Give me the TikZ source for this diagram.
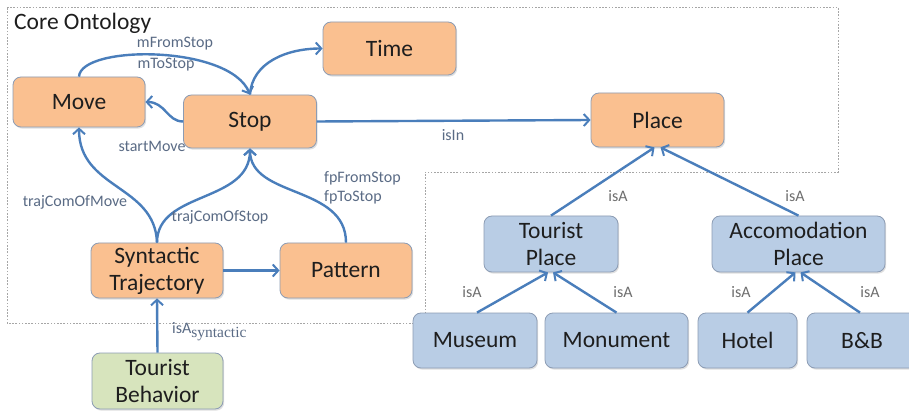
\documentclass[tikz,border=0pt]{standalone}
\usepackage{fontspec}
\setmainfont{Carlito}
\newfontfamily\subfont{Liberation Serif}
\usetikzlibrary{arrows.meta,shadows}

\definecolor{orfill}{HTML}{FAC090}
\definecolor{blfill}{HTML}{B9CDE5}
\definecolor{grfill}{HTML}{D7E4BD}
\definecolor{boxline}{HTML}{8C9CB4}
\definecolor{arrowc}{HTML}{4A7EBB}
\definecolor{lblcore}{HTML}{5A6B85}
\definecolor{lblisa}{HTML}{6E6E6E}
\definecolor{txt}{HTML}{1E1E1E}
\definecolor{frame}{HTML}{A6A6A6}

\begin{document}
\begin{tikzpicture}[x=1pt,y=-1pt,
  box/.style={draw=boxline, line width=0.8pt, rounded corners=8pt,
    inner sep=0pt, align=center, text=txt,
    font=\fontsize{23.5}{27}\selectfont,
    drop shadow={shadow xshift=1.2pt, shadow yshift=-1.6pt, opacity=0.25}},
  core/.style={box, fill=orfill},
  place/.style={box, fill=blfill},
  behav/.style={box, fill=grfill},
  rel/.style={draw=arrowc, line width=2.4pt,
    -{Straight Barb[length=5.5pt,width=12pt,line width=2pt]}},
  lbl/.style={inner sep=0pt, text=lblcore, font=\fontsize{16}{18}\selectfont},
  isalbl/.style={inner sep=0pt, text=lblisa, font=\fontsize{16}{18}\selectfont},
]
\useasboundingbox (0,0) rectangle (909,411);
\clip (0,0) rectangle (909,411);
\fill[white] (0,0) rectangle (909,411);

% boundary of the core ontology
\draw[frame, line width=0.8pt, dash pattern=on 1.6pt off 1.6pt]
  (7,7) -- (838,7) -- (838,172) -- (425,172) -- (425,323) -- (7,323) -- cycle;
\node[anchor=west, inner sep=0pt, text=txt, font=\fontsize{23.5}{26}\selectfont]
  (title) at (14,23) {Core Ontology};

% core concepts
\node[core, minimum width=132pt, minimum height=50pt] (move) at (79,102) {Move};
\node[core, minimum width=133pt, minimum height=53pt] (stop) at (250,121.5) {Stop};
\node[core, minimum width=133pt, minimum height=53pt] (time) at (389.5,48.5) {Time};
\node[core, minimum width=133pt, minimum height=54pt] (plc) at (657.5,120) {Place};
\node[core, minimum width=132pt, minimum height=55pt] (syn) at (157,270.5) {Syntactic\\Trajectory};
\node[core, minimum width=132pt, minimum height=55pt] (pat) at (346,270.5) {Pattern};

% behaviour
\node[behav, minimum width=131pt, minimum height=56pt] (beh) at (157.5,381) {Tourist\\Behavior};

% place hierarchy
\node[place, minimum width=134pt, minimum height=56pt] (tpl) at (551,244) {Tourist\\Place};
\node[place, minimum width=173pt, minimum height=56pt] (apl) at (798.5,244) {Accomodation\\Place};
\node[place, minimum width=124pt, minimum height=55pt] (mus) at (475,340.5) {Museum};
\node[place, minimum width=143pt, minimum height=55pt] (mon) at (616.5,340.5) {Monument};
\node[place, minimum width=99pt, minimum height=55pt] (hot) at (747.5,340.5) {Hotel};
\node[place, minimum width=110pt, minimum height=55pt] (bnb) at (862,340.5) {B\&B};

% relations among core concepts
\draw[rel] (move.north) .. controls +(2,-32) and +(-20,-50) .. (stop.north);
\draw[rel] (stop.north) .. controls +(2,-32) and +(-36,0) .. (time.west);
\draw[rel] (stop.west) .. controls +(-16,0) and +(20,0) .. (move.east);
\draw[rel] (stop.east) -- (plc.west);
\draw[rel] (syn.north) .. controls +(-2,-58) and +(0,62) .. (move.south);
\draw[rel] (syn.north) .. controls +(0,-52) and +(0,55) .. (stop.south);
\draw[rel] (pat.north) .. controls +(0,-58) and +(0,50) .. (stop.south);
\draw[rel] (syn.east) -- (pat.west);
\draw[rel] (beh.north) -- (syn.south);

% subclass relations
\draw[rel] (tpl.north) -- ([xshift=-3pt]plc.south);
\draw[rel] (apl.north) -- ([xshift=3pt]plc.south);
\draw[rel] ([xshift=2pt]mus.north) -- ([xshift=-3pt]tpl.south);
\draw[rel] (mon.north) -- ([xshift=2pt]tpl.south);
\draw[rel] (hot.north) -- ([xshift=-3pt]apl.south);
\draw[rel] ([xshift=-2pt]bnb.north) -- ([xshift=2pt]apl.south);

% relation labels
\node[lbl] (lfrom) at (175,44) {mFromStop};
\node[lbl] (lto) at (166,65) {mToStop};
\node[lbl] (lstart) at (152,146) {startMove};
\node[lbl] (lisin) at (453,135) {isIn};
\node[lbl] (ltmove) at (75,202) {trajComOfMove};
\node[lbl] (ltstop) at (220,217) {trajComOfStop};
\node[lbl, anchor=west] (lfpfrom) at (324,178) {fpFromStop};
\node[lbl, anchor=west] (lfpto) at (324,197) {fpToStop};
\node[lbl, anchor=west] (lisasyn) at (172,332)
  {isA\raisebox{-4pt}{\subfont\fontsize{15.5}{15.5}\selectfont syntactic}};
\node[isalbl] (la1) at (618,196) {isA};
\node[isalbl] (la2) at (795,196) {isA};
\node[isalbl] (la3) at (472,292) {isA};
\node[isalbl] (la4) at (623,292) {isA};
\node[isalbl] (la5) at (741,292) {isA};
\node[isalbl] (la6) at (870,292) {isA};
\end{tikzpicture}
\end{document}
